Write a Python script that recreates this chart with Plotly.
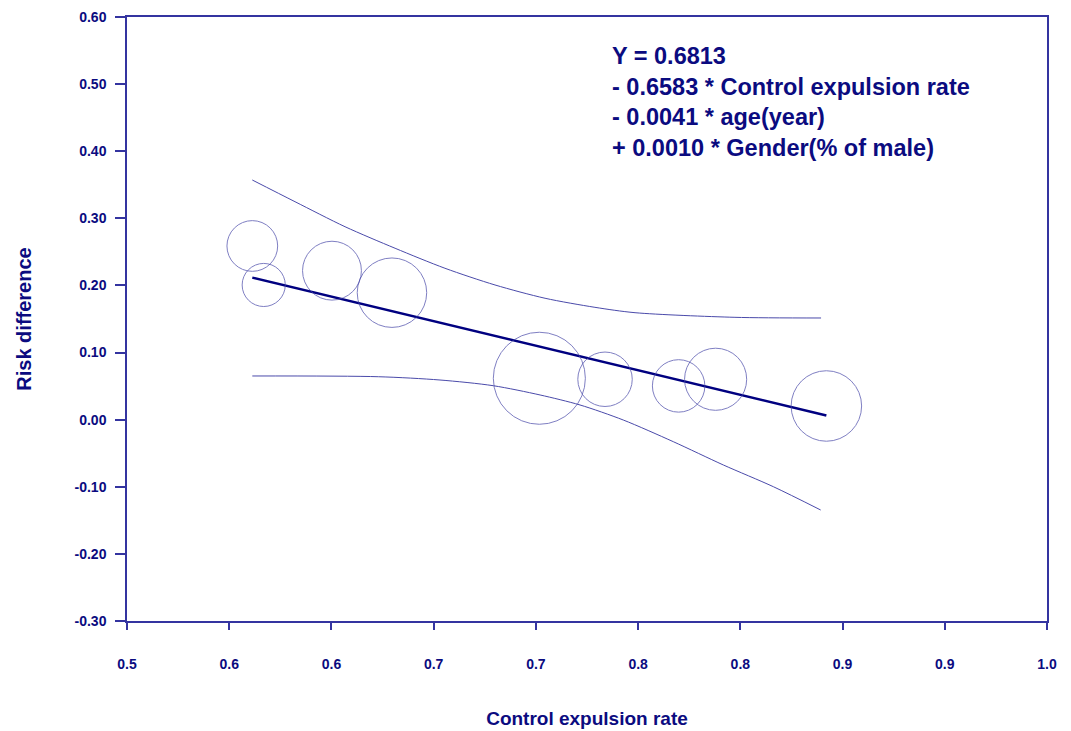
import plotly.graph_objects as go

# Study data (bubble centres and relative weights in %)
study_x = [0.5681, 0.5743, 0.6114, 0.6440, 0.7241, 0.7598, 0.7998, 0.8199, 0.8801]
study_y = [0.2588, 0.2007, 0.2220, 0.1892, 0.0617, 0.0602, 0.0503, 0.0602, 0.0204]
study_weight = [7.2, 5.2, 9.7, 13.5, 23.7, 8.3, 7.7, 10.8, 13.9]

# Regression line
reg_intercept = 0.5856
reg_slope = -0.6583
reg_x = [0.5681, 0.8801]

# Confidence limits
ci_upper_x = [0.5681, 0.5913, 0.6185, 0.6457, 0.6728, 0.7000, 0.7272, 0.7543, 0.7761, 0.8304, 0.8772]
ci_upper_y = [0.3571, 0.3248, 0.2875, 0.2554, 0.2256, 0.2007, 0.1809, 0.1674, 0.1594, 0.1525, 0.1515]
ci_lower_x = [0.5681, 0.6366, 0.6701, 0.6991, 0.7245, 0.7462, 0.7697, 0.7969, 0.8241, 0.8513, 0.8770]
ci_lower_y = [0.0651, 0.0640, 0.0591, 0.0506, 0.0368, 0.0219, -0.0005, -0.0328, -0.0675, -0.0999, -0.1346]

# Axis ticks
x_tickvals = [0.5 + i * 0.5 / 9 for i in range(10)]
x_ticktext = ["0.5", "0.6", "0.6", "0.7", "0.7", "0.8", "0.8", "0.9", "0.9", "1.0"]
y_tickvals = [0.60, 0.50, 0.40, 0.30, 0.20, 0.10, 0.00, -0.10, -0.20, -0.30]
y_ticktext = ["0.60", "0.50", "0.40", "0.30", "0.20", "0.10", "0.00", "-0.10", "-0.20", "-0.30"]

equation_lines = [
    "Y = 0.6813",
    "- 0.6583 * Control expulsion rate",
    "- 0.0041 * age(year)",
    "+ 0.0010 * Gender(% of male)",
]

NAVY = "#0b0b80"
AXIS = "#3434a0"
THIN = "#4a4aaa"
FONT = "Liberation Sans, Arial, sans-serif"

fig = go.Figure()

fig.add_trace(go.Scatter(
    x=ci_upper_x, y=ci_upper_y, mode="lines", line=dict(color=THIN, width=1, shape="spline", smoothing=0.8),
    hoverinfo="skip", showlegend=False))
fig.add_trace(go.Scatter(
    x=ci_lower_x, y=ci_lower_y, mode="lines", line=dict(color=THIN, width=1, shape="spline", smoothing=0.8),
    hoverinfo="skip", showlegend=False))

reg_y = [reg_intercept + reg_slope * v for v in reg_x]
fig.add_trace(go.Scatter(
    x=reg_x, y=reg_y, mode="lines", line=dict(color="#000080", width=2.5),
    showlegend=False))

sizeref = sum(study_weight) / (2 * 8935)
fig.add_trace(go.Scatter(
    x=study_x, y=study_y, mode="markers",
    marker=dict(size=study_weight, sizemode="area", sizeref=sizeref,
                color="rgba(0,0,0,0)", line=dict(color=THIN, width=1)),
    showlegend=False))

fig.add_annotation(
    x=0.7625, y=0.5643, xref="x", yref="y", xanchor="left", yanchor="top",
    text="<br>".join(equation_lines), showarrow=False, align="left",
    font=dict(family=FONT, size=23.5, color=NAVY, weight="bold"))

fig.update_xaxes(
    range=[0.5, 1.0], tickvals=x_tickvals, ticktext=x_ticktext,
    showgrid=False, zeroline=False, showline=True, linecolor=AXIS, linewidth=1.5,
    mirror=True, ticks="outside", ticklen=7, tickcolor=AXIS, tickwidth=1.5,
    ticklabelstandoff=22,
    tickfont=dict(family=FONT, size=14, color=NAVY, weight="bold"),
    title=dict(text="Control expulsion rate", standoff=41,
               font=dict(family=FONT, size=19, color=NAVY, weight="bold")))
fig.update_yaxes(
    range=[-0.30, 0.60], tickvals=y_tickvals, ticktext=y_ticktext,
    showgrid=False, zeroline=False, showline=True, linecolor=AXIS, linewidth=1.5,
    mirror=True, ticks="outside", ticklen=10, tickcolor=AXIS, tickwidth=1.5,
    ticklabelstandoff=6,
    tickfont=dict(family=FONT, size=14, color=NAVY, weight="bold"),
    title=dict(text="Risk difference", standoff=38,
               font=dict(family=FONT, size=20, color=NAVY, weight="bold")))

fig.update_layout(
    width=1071, height=731,
    margin=dict(l=127, r=24, t=17, b=110, autoexpand=False),
    paper_bgcolor="white", plot_bgcolor="white",
    showlegend=False)

fig.write_html("out.html")
